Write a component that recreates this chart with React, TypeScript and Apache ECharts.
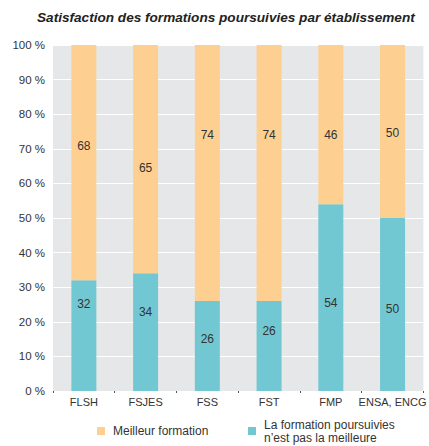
import React, { useEffect, useRef } from "react";
import * as echarts from "echarts";

const categories = ["FLSH", "FSJES", "FSS", "FST", "FMP", "ENSA, ENCG"];
const seriesBestName = "Meilleur formation";
const seriesNotBestName = "La formation poursuivies\nn’est pas la meilleure";
const bestValues = [68, 65, 74, 74, 46, 50];
const notBestValues = [32, 34, 26, 26, 54, 50];
const yTickLabels = ["0 %", "10 %", "20 %", "30 %", "40 %", "50 %", "60 %", "70 %", "80 %", "90 %", "100 %"];

// label vertical offsets (px) relative to the centre of each segment (style only)
const bestLabelDy = [-17, 9, -38, -38, 10, 1];
const notBestLabelDy = [-32, -20, -7, -15, 5, 4];

const ORANGE = "#fdd091";
const BLUE = "#72c8d2";
const FONT = "Liberation Sans, Arial, sans-serif";

export default function App() {
  const ref = useRef<HTMLDivElement>(null);
  useEffect(() => {
    if (!ref.current) return;
    const chart = echarts.init(ref.current, undefined, { renderer: "svg" });
    const labelBase = {
      show: true,
      position: "inside",
      color: "#333",
      fontSize: 12,
      fontFamily: FONT,
    };
    chart.setOption({
      animation: false,
      title: {
        text: "Satisfaction des formations poursuivies par établissement",
        left: 32,
        top: 5,
        textStyle: {
          fontSize: 13.6,
          fontStyle: "italic",
          fontWeight: "bold",
          color: "#222",
          fontFamily: FONT,
        },
      },
      grid: {
        left: 53,
        right: 0,
        top: 45,
        bottom: 55,
        show: true,
        backgroundColor: "#e6e7e8",
        borderWidth: 0,
      },
      legend: [
        {
          data: [seriesBestName],
          left: 92,
          top: 420,
          icon: "rect",
          itemWidth: 8,
          itemHeight: 8,
          textStyle: { fontSize: 12, color: "#333", padding: [0, 0, 0, 3], fontFamily: FONT },
        },
        {
          data: [seriesNotBestName],
          left: 243,
          top: 413,
          icon: "rect",
          itemWidth: 8,
          itemHeight: 8,
          textStyle: { fontSize: 12, color: "#333", lineHeight: 13, padding: [0, 0, 0, 3], fontFamily: FONT },
        },
      ],
      xAxis: {
        type: "category",
        data: categories,
        axisLine: { show: false },
        axisTick: { show: true, length: 2, lineStyle: { color: "#555" } },
        axisLabel: { color: "#333", fontSize: 11, margin: 5, interval: 0, fontFamily: FONT },
      },
      yAxis: {
        type: "value",
        min: 0,
        max: 100,
        interval: 10,
        axisLine: { show: false },
        axisTick: { show: false },
        splitLine: { show: true, lineStyle: { color: "#ffffff", width: 1 } },
        axisLabel: {
          color: "#333",
          fontSize: 11.5,
          margin: 8,
          fontFamily: FONT,
          formatter: (v: number) => yTickLabels[Math.round(v / 10)],
        },
      },
      series: [
        {
          name: seriesNotBestName,
          type: "bar",
          stack: "total",
          barWidth: 25,
          itemStyle: { color: BLUE },
          data: notBestValues.map((v, i) => ({
            value: v,
            label: { ...labelBase, offset: [0, notBestLabelDy[i]] },
          })),
          z: 3,
        },
        {
          name: seriesBestName,
          type: "bar",
          stack: "total",
          barWidth: 25,
          itemStyle: { color: ORANGE },
          // the orange segment fills the bar up to 100 %; its label shows the published value
          data: notBestValues.map((v, i) => ({
            value: 100 - v,
            label: {
              ...labelBase,
              offset: [0, bestLabelDy[i]],
              formatter: () => String(bestValues[i]),
            },
          })),
          z: 3,
        },
      ],
    });
    return () => chart.dispose();
  }, []);
  return <div ref={ref} style={{ width: 429, height: 446, position: "absolute", left: 0, top: 0 }} />;
}
